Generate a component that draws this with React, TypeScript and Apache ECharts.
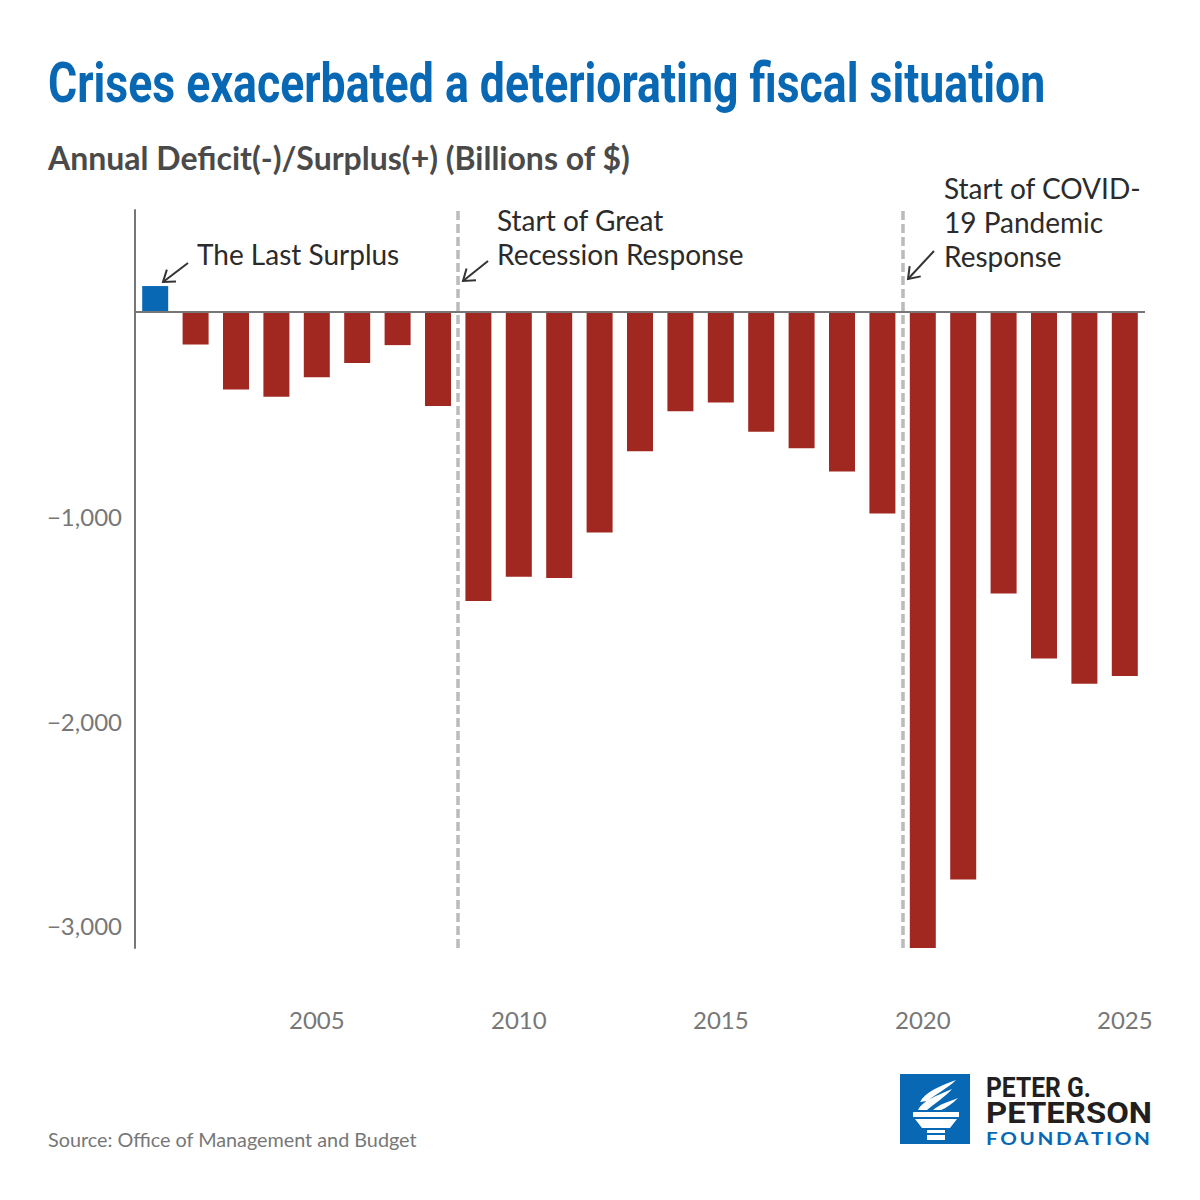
import { useEffect, useRef } from 'react';
import * as echarts from 'echarts';

const years = [
  '2001', '2002', '2003', '2004', '2005', '2006', '2007', '2008', '2009', '2010', '2011', '2012', '2013',
  '2014', '2015', '2016', '2017', '2018', '2019', '2020', '2021', '2022', '2023', '2024', '2025',
];
// Annual deficit(-)/surplus(+), billions of dollars
const balances = [
  128, -158, -378, -413, -318, -248, -161, -459, -1413, -1294, -1300, -1077, -680, -485, -442, -585, -665,
  -779, -984, -3110, -2775, -1376, -1694, -1817, -1780,
];
const yTickValues = [-3000, -2000, -1000];
const eventStartYears = ['2009', '2020'];

const BLUE = '#0868b3';
const RED = '#a12821';
const GREY = '#777777';
const TEXT = '#2b2b2b';
const LATO = 'Lato, "Noto Sans", sans-serif';
const HEAD = 'Roboto, "Noto Sans", sans-serif';

// torch mark of the logo, drawn in a 70x70 box
const torchPath =
  'M18 36 C22 27 36 22 52 15 C45 23 35 29 27 36 Z ' +
  'M20 28 C25 18 40 12 56 6 C48 14 36 20 27 27 Z ' +
  'M33 36 C40 30 48 28 58 24 C52 30 46 34 41 36 Z ' +
  'M13 38 L59 38 L59 43 L13 43 Z ' +
  'M15 45 L57 45 L50 54 L22 54 Z ' +
  'M27 56 L45 56 L45 59 L27 59 Z ' +
  'M27 61 L45 61 L45 66 L27 66 Z';

echarts.graphic.registerShape('torch', echarts.graphic.extendPath(torchPath, {}) as any);

function measure(text: string, font: string) {
  const ctx = document.createElement('canvas').getContext('2d');
  if (!ctx) return 1;
  ctx.font = font;
  return ctx.measureText(text).width || 1;
}

function arrow(x1: number, y1: number, x2: number, y2: number) {
  const ang = Math.atan2(y2 - y1, x2 - x1);
  const len = 13;
  const spread = 0.62;
  const a1 = ang + Math.PI - spread;
  const a2 = ang + Math.PI + spread;
  const stroke = { stroke: '#333', lineWidth: 2, fill: null };
  return [
    { type: 'line', shape: { x1, y1, x2, y2 }, style: stroke },
    {
      type: 'polyline',
      shape: {
        points: [
          [x2 + len * Math.cos(a1), y2 + len * Math.sin(a1)],
          [x2, y2],
          [x2 + len * Math.cos(a2), y2 + len * Math.sin(a2)],
        ],
      },
      style: stroke,
    },
  ];
}

function label(text: string, x: number, y: number, size = 28, color = TEXT, font = LATO, weight = 'normal') {
  return {
    type: 'text',
    x,
    y,
    style: {
      text,
      fill: color,
      font: `${weight} ${size}px ${font}`,
      textVerticalAlign: 'middle',
    },
  };
}

// condensed text: squeezed (or stretched) horizontally to a given width
function fitted(
  text: string,
  x: number,
  y: number,
  width: number,
  size: number,
  color: string,
  font = HEAD,
  lineHeight?: number,
) {
  const css = `bold ${size}px ${font}`;
  return {
    type: 'text',
    x,
    y,
    scaleX: width / measure(text, css),
    style: { text, fill: color, font: css, textVerticalAlign: 'middle', lineHeight: lineHeight ?? size },
  };
}

export default function App() {
  const ref = useRef<HTMLDivElement | null>(null);

  useEffect(() => {
    if (!ref.current) return;
    document.body.style.margin = '0';
    const chart = echarts.init(ref.current, undefined, { renderer: 'svg' });

    chart.setOption({
      animation: false,
      backgroundColor: '#ffffff',
      grid: { left: 135, right: 55, top: 210, bottom: 252 },
      xAxis: [
        {
          type: 'category',
          data: years,
          position: 'bottom',
          axisLine: { show: false },
          axisTick: { show: false },
          axisLabel: {
            interval: (_: number, value: string) => Number(value) % 5 === 0,
            color: GREY,
            fontSize: 24,
            fontFamily: LATO,
            margin: 59,
          },
        },
        { type: 'value', min: 0.5, max: years.length + 0.5, show: false },
      ],
      yAxis: {
        type: 'value',
        min: -3110,
        max: 500,
        axisLine: { show: true, lineStyle: { color: GREY, width: 2 } },
        axisTick: { show: false },
        splitLine: { show: false },
        axisLabel: {
          customValues: yTickValues,
          color: GREY,
          fontSize: 24,
          fontFamily: LATO,
          margin: 13,
          formatter: (v: number) => (v < 0 ? '\u2212' : '') + Math.abs(v).toLocaleString('en-US'),
        },
      },
      series: [
        {
          type: 'bar',
          data: balances.map((v) => ({ value: v, itemStyle: { color: v > 0 ? BLUE : RED } })),
          barWidth: 26,
          markLine: {
            silent: true,
            symbol: ['none', 'none'],
            label: { show: false },
            lineStyle: { color: GREY, width: 2, type: 'solid' },
            data: [{ yAxis: 0 }],
          },
        },
        {
          type: 'line',
          xAxisIndex: 1,
          data: [],
          markLine: {
            silent: true,
            symbol: ['none', 'none'],
            label: { show: false },
            lineStyle: { color: '#bbbbbb', width: 3.5, type: [9, 4] },
            data: eventStartYears.map((y) => ({ xAxis: years.indexOf(y) + 0.5 })),
          },
        },
      ],
      graphic: [
        fitted('Crises exacerbated a deteriorating fiscal situation', 48, 83, 998, 55, BLUE),
        label('Annual Deficit(-)/Surplus(+) (Billions of $)', 48, 157, 32, '#4a4a4a', LATO, 'bold'),
        label('The Last Surplus', 197, 254),
        label('Start of Great', 497, 220),
        label('Recession Response', 497, 254),
        label('Start of COVID-', 944, 188),
        label('19 Pandemic', 944, 222),
        label('Response', 944, 256),
        ...arrow(188, 263, 163, 282),
        ...arrow(488, 261, 463, 281),
        ...arrow(934, 251, 908, 279),
        label('Source: Office of Management and Budget', 48, 1139, 19.8, GREY),
        { type: 'rect', shape: { x: 900, y: 1074, width: 70, height: 70 }, style: { fill: BLUE } },
        { type: 'torch', x: 900, y: 1074, style: { fill: '#ffffff' } },
        fitted('PETER G.', 986, 1087, 105, 28, '#231f20', HEAD, 22),
        fitted('PETERSON', 986, 1113, 166, 30, '#231f20', HEAD, 23),
        fitted(
          'F\u2009O\u2009U\u2009N\u2009D\u2009A\u2009T\u2009I\u2009O\u2009N',
          986,
          1138,
          164,
          17,
          BLUE,
          LATO,
          14,
        ),
      ],
    });

    return () => chart.dispose();
  }, []);

  return <div ref={ref} style={{ width: 1200, height: 1200 }} />;
}
